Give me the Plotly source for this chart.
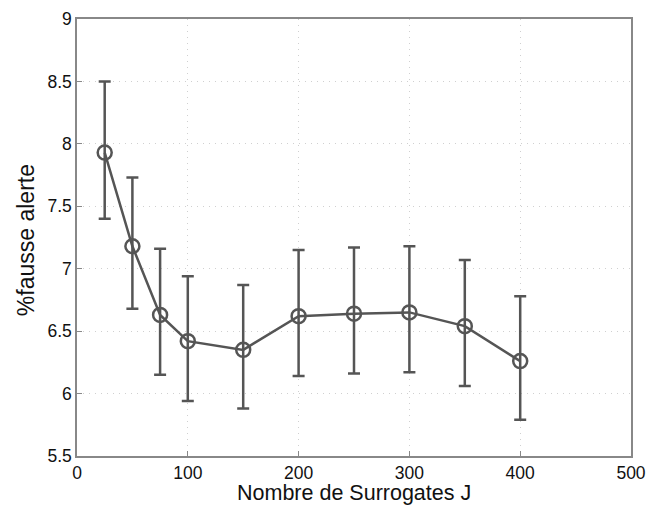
import plotly.graph_objects as go

J = [25, 50, 75, 100, 150, 200, 250, 300, 350, 400]
fa_mean = [7.93, 7.18, 6.63, 6.42, 6.35, 6.62, 6.64, 6.65, 6.54, 6.26]
fa_upper = [8.50, 7.73, 7.16, 6.94, 6.87, 7.15, 7.17, 7.18, 7.07, 6.78]
fa_lower = [7.40, 6.68, 6.15, 5.94, 5.88, 6.14, 6.16, 6.17, 6.06, 5.79]

err_plus = [u - m for u, m in zip(fa_upper, fa_mean)]
err_minus = [m - l for m, l in zip(fa_mean, fa_lower)]

col = "#555555"
font_fam = "Liberation Sans, Arial, sans-serif"
fig = go.Figure(go.Scatter(
    x=J, y=fa_mean, mode="lines+markers",
    line=dict(color=col, width=2.5),
    marker=dict(symbol="circle-open", size=14, color=col, line=dict(width=2.5, color=col)),
    error_y=dict(type="data", symmetric=False, array=err_plus, arrayminus=err_minus,
                 color=col, thickness=2.5, width=6),
    showlegend=False,
))

axis_common = dict(
    showline=True, linecolor="#888888", linewidth=1.5, mirror=True,
    ticks="inside", ticklen=5, tickcolor="#888888",
    showgrid=True, gridcolor="#d0d0d0", griddash="1px,5px", gridwidth=1,
    zeroline=False, automargin=False,
    tickfont=dict(family=font_fam, size=17.5, color="#111111"),
)
fig.update_layout(
    width=653, height=498,
    margin=dict(l=69, r=30, t=11, b=50),
    paper_bgcolor="white", plot_bgcolor="white",
    xaxis=dict(range=[0, 500], tickvals=[0, 100, 200, 300, 400, 500], **axis_common),
    yaxis=dict(range=[5.5, 9], tickvals=[5.5, 6, 6.5, 7, 7.5, 8, 8.5, 9],
               ticktext=["5.5", "6", "6.5", "7", "7.5", "8", "8.5", "9"], **axis_common),
    annotations=[
        dict(text="Nombre de Surrogates J", xref="paper", yref="paper", x=0.5, y=-0.085,
             xanchor="center", yanchor="middle", showarrow=False,
             font=dict(family=font_fam, size=21.5, color="#111111")),
        dict(text="%fausse alerte", xref="paper", yref="paper", x=-0.092, y=0.494,
             xanchor="center", yanchor="middle", showarrow=False, textangle=-90,
             font=dict(family=font_fam, size=23, color="#111111")),
    ],
)
fig.write_html("out.html")
